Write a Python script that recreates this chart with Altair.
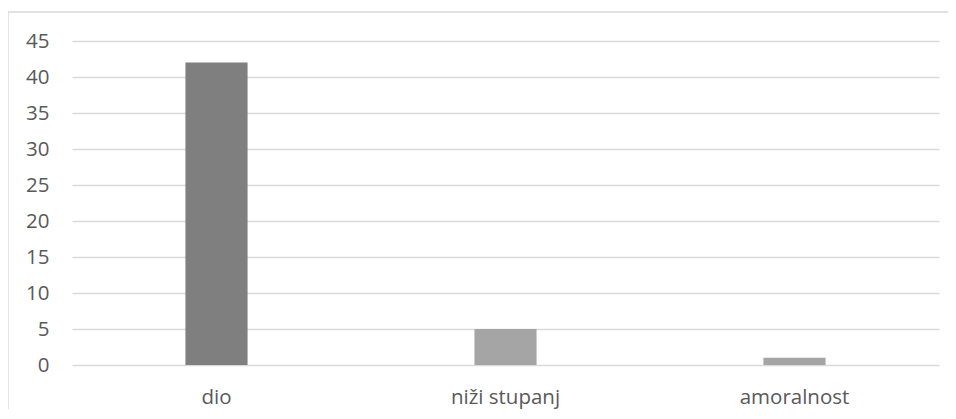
import altair as alt
import pandas as pd

categories = ["dio", "niži stupanj", "amoralnost"]
values = [42, 5, 1]
bar_colors = ["#7f7f7f", "#a5a5a5", "#a5a5a5"]

df = pd.DataFrame({"cat": categories, "val": values, "col": bar_colors})

bars = alt.Chart(df).mark_bar().encode(
    x=alt.X("cat:N", sort=categories,
            scale=alt.Scale(paddingInner=0.785, paddingOuter=0.3925),
            axis=alt.Axis(title=None, labelAngle=0, domain=False, ticks=False,
                          labelPadding=22, labelFontSize=20.5, labelFont="Open Sans",
                          labelColor="#595959", grid=False)),
    y=alt.Y("val:Q", scale=alt.Scale(domain=[0, 45], nice=False),
            axis=alt.Axis(title=None, values=list(range(0, 50, 5)), domain=False, ticks=False,
                          labelPadding=23, labelFontSize=20.5, labelFont="Open Sans",
                          labelColor="#595959", gridColor="#d9d9d9", gridWidth=1.4)),
    color=alt.Color("col:N", scale=None),
)

border = alt.Chart(pd.DataFrame({"a": [0]})).mark_rect(
    fill=None, stroke="#d9d9d9", strokeWidth=1.4, clip=False
).encode(
    x=alt.value(-64), x2=alt.value(900), y=alt.value(-29), y2=alt.value(400)
)

chart = alt.layer(border, bars).properties(
    width=867, height=324,
    autosize=alt.AutoSizeParams(type="none"),
    padding={"left": 64, "top": 33, "right": 9, "bottom": 44},
).configure_view(stroke=None)

chart.save("out.html", embed_options={"renderer": "svg", "actions": False})
